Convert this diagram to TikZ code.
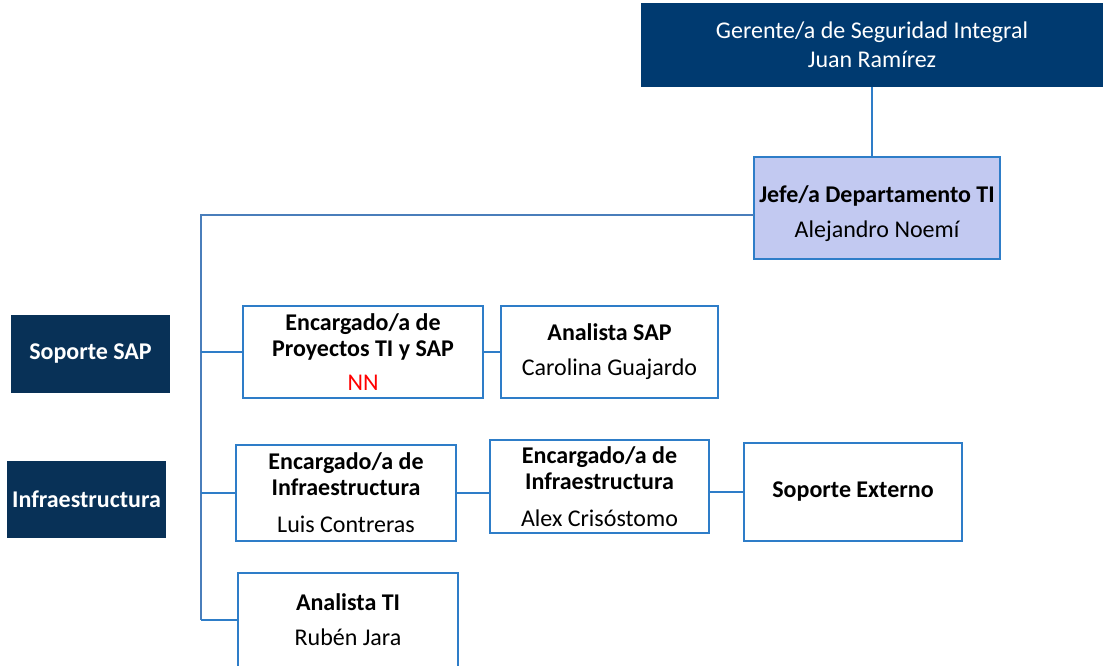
\documentclass[tikz,border=0pt]{standalone}
\usepackage{fontspec}
\setmainfont{Carlito}
\definecolor{navy}{RGB}{0,58,112}
\definecolor{darknavy}{RGB}{8,49,87}
\definecolor{boxblue}{RGB}{46,125,200}
\definecolor{trunkblue}{RGB}{74,126,187}
\definecolor{jefefill}{RGB}{194,201,241}
\definecolor{nnred}{RGB}{255,0,0}
\begin{document}
\begin{tikzpicture}[x=1pt,y=-1pt,inner sep=0pt,outer sep=0pt,
orgbox/.style={draw=boxblue,line width=2pt,rectangle,align=center,font=\fontsize{24}{26}\selectfont},
topbox/.style={fill=navy,text=white,rectangle,align=center,font=\fontsize{24}{26}\selectfont},
areabox/.style={fill=darknavy,text=white,rectangle,font=\bfseries\fontsize{24}{26}\selectfont},
link/.style={draw=boxblue,line width=1.8pt},
trunk/.style={draw=trunkblue,line width=1.4pt}]
\useasboundingbox (0,0) rectangle (1103,666);
\draw (872,45) node[topbox,minimum width=462pt,minimum height=84pt] (gerente) {Gerente/a de Seguridad Integral\\[3pt]Juan Ramírez};
\draw (877,208) node[orgbox,fill=jefefill,minimum width=246pt,minimum height=102pt] (jefe) {\rule{0pt}{28pt}\textbf{Jefe/a Departamento TI}\\[9pt]Alejandro Noemí};
\draw (90.5,354) node[areabox,minimum width=159pt,minimum height=78pt] (soporteSAP) {Soporte SAP};
\draw (86.5,499.5) node[areabox,minimum width=159pt,minimum height=77pt] (infra) {Infraestructura};
\draw (363,352) node[orgbox,minimum width=240pt,minimum height=92pt] (proyectos) {\textbf{Encargado/a de}\\\textbf{Proyectos TI y SAP}\\[8pt]\textcolor{nnred}{NN}};
\draw (609.5,352) node[orgbox,minimum width=217pt,minimum height=92pt] (analistaSAP) {\textbf{Analista SAP}\\[9pt]Carolina Guajardo};
\draw (346,493) node[orgbox,minimum width=220pt,minimum height=96pt] (encInfraA) {\textbf{Encargado/a de}\\\textbf{Infraestructura}\\[11pt]Luis Contreras};
\draw (599.5,486.5) node[orgbox,minimum width=219pt,minimum height=93pt] (encInfraB) {\textbf{Encargado/a de}\\\textbf{Infraestructura}\\[11pt]Alex Crisóstomo};
\draw (853,492) node[orgbox,minimum width=218pt,minimum height=98pt] (soporteExt) {\textbf{Soporte Externo}};
\draw (348,620) node[orgbox,minimum width=220pt,minimum height=94pt] (analistaTI) {\textbf{Analista TI}\\[9pt]Rubén Jara};
% lineas
\coordinate (tronco) at (201,215);
\draw[link] (gerente.-90) -- (gerente.-90 |- jefe.90);
\draw[trunk] (jefe.180 |- tronco) -- (tronco) -- (tronco |- analistaTI.180);
\draw[link] (tronco |- proyectos.180) -- (proyectos.180);
\draw[link] (tronco |- encInfraA.180) -- (encInfraA.180);
\draw[link] (tronco |- analistaTI.180) -- (analistaTI.180);
\draw[link] (proyectos.0) -- (analistaSAP.180);
\draw[link] (encInfraA.0) -- (encInfraA.0 -| encInfraB.180);
\draw[link] (soporteExt.180 -| encInfraB.0) -- (soporteExt.180);
\end{tikzpicture}
\end{document}
